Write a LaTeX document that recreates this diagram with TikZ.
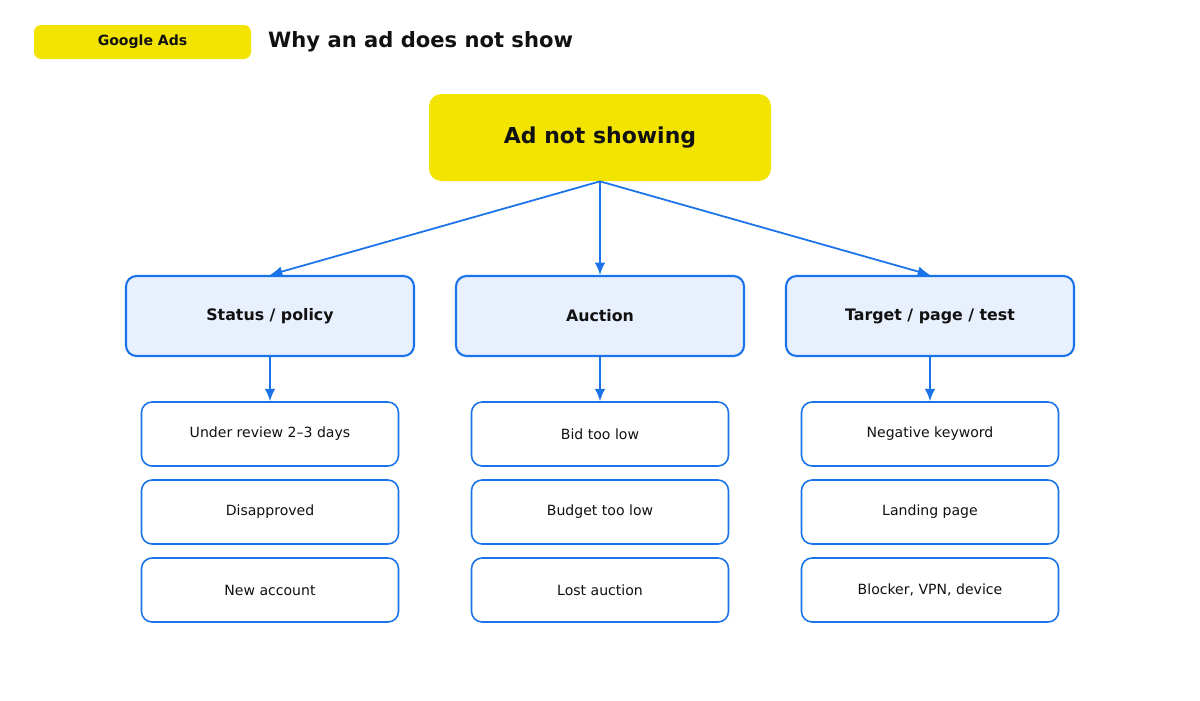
\documentclass[tikz,border=0pt]{standalone}
\usepackage{fontspec}
\setmainfont{DejaVu Sans}
\usetikzlibrary{arrows.meta}
\definecolor{adyellow}{HTML}{F2E300}
\definecolor{adblue}{HTML}{1A73E8}
\definecolor{adpale}{HTML}{E8F0FE}
\definecolor{adtext}{HTML}{111111}
\tikzset{>={Latex[length=7pt,width=6pt]}}
\tikzset{
  badge/.style={fill=adyellow, rounded corners=4pt, minimum width=217*0.02cm, minimum height=34*0.02cm, font=\fontsize{8}{10}\selectfont\bfseries, text=adtext},
  rootbox/.style={fill=adyellow, rounded corners=7pt, minimum width=342*0.02cm, minimum height=87*0.02cm, font=\fontsize{12.5}{15}\selectfont\bfseries, text=adtext},
  group/.style={draw=adblue, line width=1.2pt, fill=adpale, rounded corners=6pt, minimum width=288*0.02cm, minimum height=80*0.02cm, font=\fontsize{9}{11}\selectfont\bfseries, text=adtext},
  leaf/.style={draw=adblue, line width=0.9pt, fill=white, rounded corners=6pt, minimum width=257*0.02cm, minimum height=64*0.02cm, font=\fontsize{8}{10}\selectfont, text=adtext},
  link/.style={->, draw=adblue, line width=1pt}
}
\begin{document}
\begin{tikzpicture}[x=0.02cm, y=-0.02cm]
  \useasboundingbox (0,0) rectangle (1200,700);
  % header
  \node[badge] (badge) at (142.5,42) {Google Ads};
  \node[anchor=west, font=\fontsize{12}{14}\selectfont\bfseries, text=adtext] (title) at (262,42) {Why an ad does not show};

  % root and groups
  \node[rootbox] (root) at (600,137.5) {Ad not showing};
  \node[group] (status) at (270,316) {Status / policy};
  \node[group] (auction) at (600,316) {Auction};
  \node[group] (target) at (930,316) {Target / page / test};

  \draw[link] (root.south) -- (status.north);
  \draw[link] (root.south) -- (auction.north);
  \draw[link] (root.south) -- (target.north);

  % leaves
  \foreach \g/\x/\a/\b/\c in {status/270/Under review 2–3 days/Disapproved/New account / pay,
                              auction/600/Bid too low/Budget too low/Lost auction,
                              target/930/Negative keyword/Landing page/{Blocker, VPN, device}} {
    \node[leaf] (\g1) at (\x,434) {\a};
    \node[leaf] (\g2) at (\x,512) {\b};
    \node[leaf] (\g3) at (\x,590) {\c};
    \draw[link] (\g.south) -- (\g1.north);
  }
\end{tikzpicture}
\end{document}
